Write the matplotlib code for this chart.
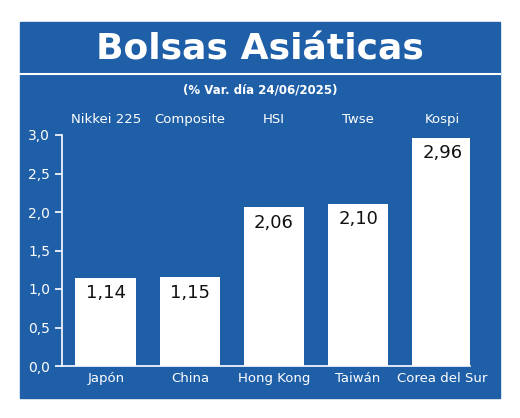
import matplotlib
matplotlib.use("Agg")
import matplotlib.pyplot as plt
from matplotlib.patches import Rectangle
from matplotlib.lines import Line2D

countries = ["Japón", "China", "Hong Kong", "Taiwán", "Corea del Sur"]
indices = ["Nikkei 225", "Composite", "HSI", "Twse", "Kospi"]
values = [1.14, 1.15, 2.06, 2.10, 2.96]
yticks = [0.0, 0.5, 1.0, 1.5, 2.0, 2.5, 3.0]

W, H = 520, 418
blue = "#1f5fa8"
fam = ["DejaVu Sans"]
fig = plt.figure(figsize=(W/100, H/100), dpi=100)
fig.patches.append(Rectangle((20/W, 1-398/H), 480/W, 376/H, transform=fig.transFigure, color=blue, zorder=-10))
fig.lines.append(Line2D([20/W, 500/W], [1-74/H, 1-74/H], transform=fig.transFigure, color="white", lw=1.5))
fig.text(0.5, 1-50/H, "Bolsas Asiáticas", ha="center", va="center", color="white",
         fontsize=26, fontweight="bold", family=fam)
fig.text(0.5, 1-90/H, "(% Var. día 24/06/2025)", ha="center", va="center", color="white",
         fontsize=8.5, fontweight="bold", family=fam)

ax = fig.add_axes([62/W, 1-366/H, 408/W, 231/H])
ax.set_facecolor("none")
x = list(range(len(values)))
ax.bar(x, values, width=0.72, color="white")
for i, v in enumerate(values):
    ax.text(i, v - 0.08, f"{v:.2f}".replace(".", ","), ha="center", va="top",
            fontsize=13, color="#111111", family=fam)
    ax.text(i, 3.2, indices[i], ha="center", va="center", fontsize=9.5, color="white", family=fam)
ax.set_xlim(-0.52, 4.33)
ax.set_ylim(0, 3.0)
ax.set_yticks(yticks)
ax.set_yticklabels([f"{t:.1f}".replace(".", ",") for t in yticks], fontsize=10, color="white", family=fam)
ax.set_xticks(x)
ax.set_xticklabels(countries, fontsize=9.5, color="white", family=fam)
ax.tick_params(axis="x", length=0, pad=4)
ax.tick_params(axis="y", colors="white", length=5, width=1.2)
for s in ["top", "right"]:
    ax.spines[s].set_visible(False)
for s in ["left", "bottom"]:
    ax.spines[s].set_color("white")
    ax.spines[s].set_linewidth(1.2)
fig.savefig("out.png", dpi=100, facecolor="white")
